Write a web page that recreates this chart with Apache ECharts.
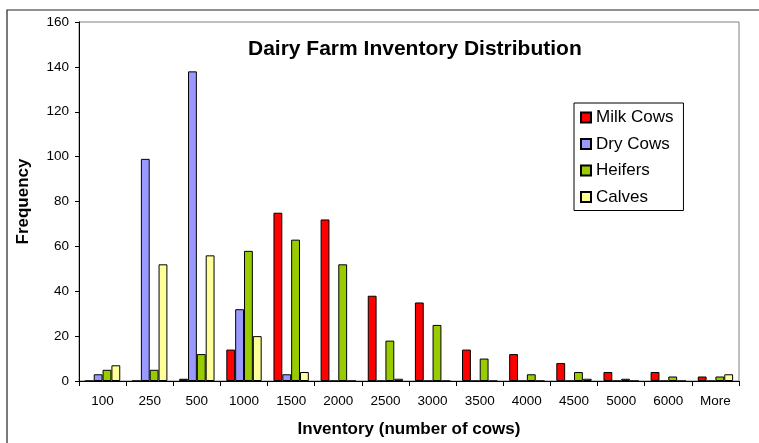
<!DOCTYPE html>
<html>
<head>
<meta charset="utf-8">
<script src="https://cdn.jsdelivr.net/npm/echarts@6/dist/echarts.min.js"></script>
<style>
  html, body { margin: 0; padding: 0; background: #fff; overflow: hidden; }
  #chart { width: 759px; height: 443px; }
</style>
</head>
<body>
<div id="chart"></div>
<script>
// Inventory bins (number of cows) and frequency of farms in each bin
const categories = ['100', '250', '500', '1000', '1500', '2000', '2500', '3000', '3500', '4000', '4500', '5000', '6000', 'More'];
const milkCows = [0, 0, 1, 14, 75, 72, 38, 35, 14, 12, 8, 4, 4, 2];
const dryCows  = [3, 99, 138, 32, 3, 0, 0, 0, 0, 0, 0, 0, 0, 0];
const heifers  = [5, 5, 12, 58, 63, 52, 18, 25, 10, 3, 4, 1, 2, 2];
const calves   = [7, 52, 56, 20, 4, 0, 1, 0, 0, 0, 1, 0, 0, 3];
const yTicks = { min: 0, max: 160, step: 20 };

const FONT = "'Liberation Sans', Arial, sans-serif";

function barSeries(name, data, color) {
  return {
    name: name,
    type: 'bar',
    data: data,
    barGap: '0%',
    barCategoryGap: '25%',
    itemStyle: { color: color, borderColor: '#000', borderWidth: 1 }
  };
}

const chart = echarts.init(document.getElementById('chart'), null, { renderer: 'canvas' });
chart.setOption({
  animation: false,
  backgroundColor: '#fff',
  textStyle: { fontFamily: FONT },
  title: {
    text: 'Dairy Farm Inventory Distribution',
    left: 248,
    top: 39,
    padding: 0,
    textStyle: { fontFamily: FONT, fontSize: 21, fontWeight: 'bold', color: '#000' }
  },
  legend: {
    orient: 'vertical',
    left: 574,
    top: 103,
    padding: [6, 10, 5, 6],
    itemGap: 9.5,
    itemWidth: 10,
    itemHeight: 10,
    icon: 'rect',
    borderColor: '#000',
    borderWidth: 1,
    backgroundColor: '#fff',
    textStyle: { fontFamily: FONT, fontSize: 17, color: '#000' },
    data: ['Milk Cows', 'Dry Cows', 'Heifers', 'Calves']
  },
  graphic: [{
    // outer chart frame: only its top and left edges fall inside the canvas
    type: 'polyline',
    shape: { points: [[7, 470], [7, 10], [800, 10]] },
    style: { fill: 'none', stroke: '#222', lineWidth: 1.2 },
    silent: true,
    z: -1
  }],
  grid: {
    left: 79, right: 20, top: 22, bottom: 61,
    show: true,
    borderColor: '#808080',
    borderWidth: 1,
    backgroundColor: '#fff'
  },
  xAxis: {
    type: 'category',
    data: categories,
    name: 'Inventory (number of cows)',
    nameLocation: 'middle',
    nameGap: 40,
    nameTextStyle: { fontFamily: FONT, fontSize: 17, fontWeight: 'bold', color: '#000' },
    axisLine: { lineStyle: { color: '#000', width: 1 } },
    axisTick: { show: true, alignWithLabel: false, length: 5, lineStyle: { color: '#000' } },
    axisLabel: { fontFamily: FONT, fontSize: 13.5, color: '#000', margin: 13, interval: 0 },
    splitLine: { show: false }
  },
  yAxis: {
    type: 'value',
    min: yTicks.min,
    max: yTicks.max,
    interval: yTicks.step,
    name: 'Frequency',
    nameLocation: 'middle',
    nameGap: 47,
    nameTextStyle: { fontFamily: FONT, fontSize: 17, fontWeight: 'bold', color: '#000' },
    axisLine: { show: true, lineStyle: { color: '#000', width: 1 } },
    axisTick: { show: true, length: 4, lineStyle: { color: '#000' } },
    axisLabel: { fontFamily: FONT, fontSize: 13.5, color: '#000', margin: 10 },
    splitLine: { show: false }
  },
  series: [
    barSeries('Milk Cows', milkCows, '#FF0000'),
    barSeries('Dry Cows', dryCows, '#9999FF'),
    barSeries('Heifers', heifers, '#99CC00'),
    barSeries('Calves', calves, '#FFFF99')
  ]
});
</script>
</body>
</html>
